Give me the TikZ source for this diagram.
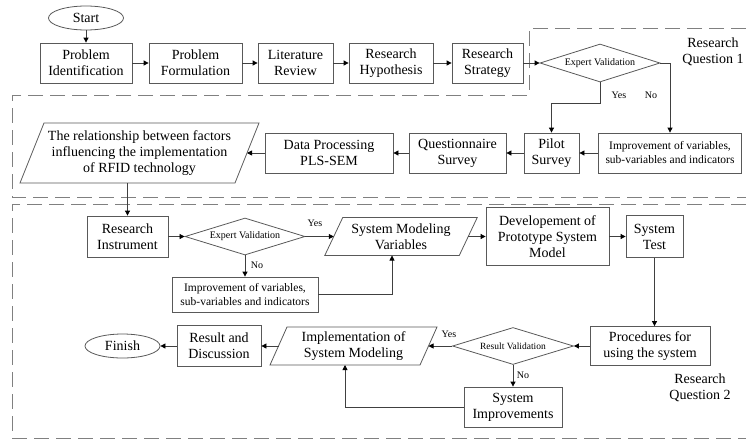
\documentclass[tikz,border=0pt]{standalone}
\usepackage{fontspec}
\setmainfont{Liberation Serif}
\usetikzlibrary{arrows.meta,shapes.geometric}

\tikzset{
  big/.style={font=\fontsize{14}{16}\selectfont},
  rectbox/.style={draw=black!65, line width=0.8pt, fill=white, align=center, inner sep=1pt, big},
  sz/.style 2 args={minimum width=#1pt, minimum height=#2pt},
  smallbox/.style={rectbox, font=\fontsize{11.5}{14}\selectfont},
  oval/.style={ellipse, draw=black!65, line width=0.8pt, inner sep=0pt, minimum width=75pt, minimum height=24pt, big},
  decision/.style={diamond, draw=black!65, line width=0.8pt, inner sep=0pt, aspect=3.2, font=\fontsize{10}{12}\selectfont},
  paranode/.style={draw=none, inner sep=0pt, outer sep=0pt, align=center, big},
  outline/.style={draw=black!65, line width=0.8pt},
  conn/.style={draw=black!75, line width=0.8pt, -{Triangle[length=5pt,width=5pt,color=black]}},
  lbl/.style={inner sep=0pt, font=\fontsize{10}{12}\selectfont},
  region/.style={draw=black!50, line width=1pt, dash pattern=on 15pt off 7pt},
  rqlabel/.style={align=center, inner sep=0pt, big},
}

% parallelogram drawn around a plain node: #1 node name, #2 half of the slant
\newcommand\paraoutline[2]{%
  \draw[outline] ([xshift=#2pt]#1.north west) -- ([xshift=#2pt]#1.north east)
    -- ([xshift=-#2pt]#1.south east) -- ([xshift=-#2pt]#1.south west) -- cycle;}

\begin{document}
\begin{tikzpicture}[x=1pt,y=-1pt]
\useasboundingbox (0,0) rectangle (746,440);

% dashed frames of the two research questions
\draw[region] (746,28) -- (529,28) -- (529,95) -- (12,95) -- (12,197) -- (746,197);
\draw[region] (746,204) -- (12,204) -- (12,438) -- (746,438);

\node[rqlabel] (rq1) at (713,52) {Research\\Question 1};
\node[rqlabel] (rq2) at (700,388) {Research\\Question 2};

% first row
\node[oval] (start) at (86,18) {Start};
\node[rectbox, sz={92}{40}] (pi) at (86,63) {Problem\\Identification};
\node[rectbox, sz={93}{40}] (pf) at (195.5,63) {Problem\\Formulation};
\node[rectbox, sz={75}{40}] (lr) at (295.5,63) {Literature\\Review};
\node[rectbox, sz={84}{40}] (rh) at (391,63) {Research\\Hypothesis};
\node[rectbox, sz={71}{40}] (rs) at (487.5,63) {Research\\Strategy};
\node[decision, minimum width=120pt, minimum height=38pt] (ev1) at (600,63) {Expert Validation};

% second row
\node[smallbox, sz={143}{40}] (imp1) at (670,153) {Improvement of variables,\\sub-variables and indicators};
\node[rectbox, sz={55}{40}] (pilot) at (551.5,153) {Pilot\\Survey};
\node[rectbox, sz={97}{40}] (qs) at (457.5,153) {Questionnaire\\Survey};
\node[rectbox, sz={128}{40}] (dp) at (329,153) {Data Processing\\PLS-SEM};
\node[paranode, sz={215}{60}] (rel) at (139.5,153) {The relationship between factors\\influencing the implementation\\of RFID technology};
\paraoutline{rel}{12}

% third row
\node[rectbox, sz={81}{41}] (ri) at (127.5,236.5) {Research\\Instrument};
\node[decision, minimum width=120pt, minimum height=37pt] (ev2) at (245,236.5) {Expert Validation};
\node[paranode, sz={134.5}{38}] (smv) at (401,236.5) {System Modeling\\Variables};
\paraoutline{smv}{9}
\node[smallbox, sz={146}{35}] (imp2) at (245,294.5) {Improvement of variables,\\sub-variables and indicators};
\node[rectbox, sz={123}{58}] (dev) at (547.5,236.5) {Developement of\\Prototype System\\Model};
\node[rectbox, sz={57}{42}] (st) at (654.5,236.5) {System\\Test};

% fourth row
\node[rectbox, sz={120}{39}] (proc) at (650,346) {Procedures for\\using the system};
\node[decision, minimum width=121pt, minimum height=37pt, font=\fontsize{9.5}{11}\selectfont] (rv) at (513,346) {Result Validation};
\node[rectbox, sz={98}{40}] (si) at (513,407) {System\\Improvements};
\node[paranode, sz={150}{38}] (impl) at (353.5,346) {Implementation of\\System Modeling};
\paraoutline{impl}{8.5}
\node[rectbox, sz={84}{41}] (rd) at (219,346) {Result and\\Discussion};
\node[oval] (fin) at (122.5,346) {Finish};

% connectors
\draw[conn] (start) -- (pi);
\draw[conn] (pi) -- (pf);
\draw[conn] (pf) -- (lr);
\draw[conn] (lr) -- (rh);
\draw[conn] (rh) -- (rs);
\draw[conn] (rs) -- (ev1);
\draw[conn] (ev1.south) -- ++(0,21) -| (pilot.north);
\draw[conn] (ev1.east) -| (imp1.north);
\node[lbl] (yes1) at (619,95) {Yes};
\node[lbl] (no1) at (651,95) {No};
\draw[conn] (imp1) -- (pilot);
\draw[conn] (pilot) -- (qs);
\draw[conn] (qs) -- (dp);
\draw[conn] (dp) -- (rel.east);
\draw[conn] ([xshift=-12pt]rel.south) -- ([xshift=-12pt]rel.south |- ri.north);
\draw[conn] (ri) -- (ev2);
\draw[conn] (ev2) -- (smv.west);
\node[lbl] (yes2) at (315,223) {Yes};
\draw[conn] (ev2) -- (imp2);
\node[lbl] (no2) at (257,265) {No};
\draw[conn] (imp2.east) -| ([xshift=-9pt]smv.south);
\draw[conn] (smv.east) -- (dev);
\draw[conn] (dev) -- (st);
\draw[conn] (st.south) -- (st.south |- proc.north);
\draw[conn] (proc) -- (rv);
\draw[conn] (rv) -- (impl.east);
\node[lbl] (yes3) at (449,334) {Yes};
\draw[conn] (rv) -- (si);
\node[lbl] (no3) at (523,375) {No};
\draw[conn] (si.west) -| ([xshift=-8.5pt]impl.south);
\draw[conn] (impl.west) -- (rd);
\draw[conn] (rd) -- (fin);
\end{tikzpicture}
\end{document}
